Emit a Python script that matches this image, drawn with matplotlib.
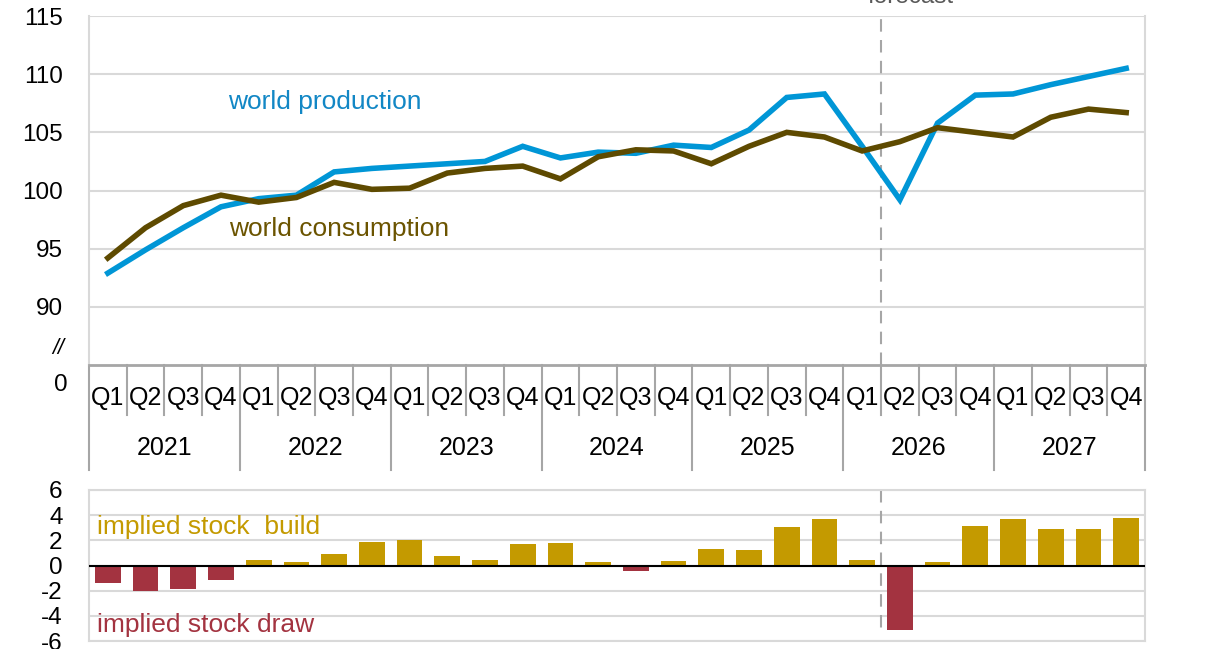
import numpy as np
import matplotlib
matplotlib.use("Agg")
from matplotlib import pyplot as plt
from matplotlib import transforms

plt.rcParams['font.family'] = ['Liberation Sans', 'DejaVu Sans']
plt.rcParams['axes.unicode_minus'] = False

years = ['2021', '2022', '2023', '2024', '2025', '2026', '2027']
quarters = ['Q1', 'Q2', 'Q3', 'Q4']

# million barrels per day
production = [92.9, 94.9, 96.8, 98.6, 99.3, 99.6, 101.6, 101.9, 102.1, 102.3,
              102.5, 103.8, 102.8, 103.3, 103.2, 103.9, 103.7, 105.2, 108.0, 108.3,
              103.8, 99.2, 105.8, 108.2, 108.3, 109.1, 109.8, 110.5]
consumption = [94.2, 96.8, 98.7, 99.6, 99.0, 99.4, 100.7, 100.1, 100.2, 101.5,
               101.9, 102.1, 101.0, 102.9, 103.5, 103.4, 102.3, 103.8, 105.0, 104.6,
               103.4, 104.2, 105.4, 105.0, 104.6, 106.3, 107.0, 106.7]
stock_change = [-1.4, -2.05, -1.9, -1.15, 0.4, 0.25, 0.9, 1.83, 2.0, 0.75,
                0.45, 1.67, 1.78, 0.3, -0.42, 0.37, 1.3, 1.2, 3.05, 3.72,
                0.4, -5.15, 0.3, 3.17, 3.72, 2.9, 2.93, 3.78]
forecast_start = 21  # first forecast quarter (2026 Q2)

blue = '#0096D6'
brown = '#5E4A00'
gold = '#C49A00'
red = '#A33340'
grid = '#D9D9D9'
sep = '#A6A6A6'

tick_fs = 17.5
cat_fs = 18
note_fs = 19

n = len(production)
x = np.arange(n)

fig = plt.figure(figsize=(12.09, 6.49), dpi=100)
ax = fig.add_axes([0.0736, 0.4376, 0.8735, 0.5377])
ax2 = fig.add_axes([0.0736, 0.0123, 0.8735, 0.2327])

# ---- top panel: production / consumption
ax.plot(x, production, color=blue, lw=4, solid_joinstyle='miter', zorder=3)
ax.plot(x, consumption, color=brown, lw=4, solid_joinstyle='miter', zorder=3)
ax.set_xlim(-0.5, n - 0.5)
ax.set_ylim(85, 115)
ax.set_yticks([90, 95, 100, 105, 110, 115])
ax.yaxis.grid(True, color=grid, lw=1.5)
ax.set_axisbelow(True)
ax.set_xticks([])
ax.tick_params(axis='y', length=0, pad=19, labelsize=tick_fs)
for s in ['left', 'right']:
    ax.spines[s].set_color(grid)
    ax.spines[s].set_linewidth(1.5)
ax.spines['top'].set_visible(False)
ax.spines['bottom'].set_color(sep)
ax.spines['bottom'].set_linewidth(2)
ax.axvline(forecast_start - 0.5, color=sep, lw=1.5, dashes=(6, 4), zorder=2)

ax.text(forecast_start + 0.28, 116.6, 'forecast', color='#595959',
        fontsize=tick_fs, ha='center', va='center', clip_on=False)
ax.text(3.19, 107.6, 'world production', color='#1287C5', fontsize=note_fs, va='center')
ax.text(3.22, 96.7, 'world consumption', color='#6B5400', fontsize=note_fs, va='center')

# axis break marker and zero
ax.text(-0.023, 86.4, '//', transform=transforms.blended_transform_factory(ax.transAxes, ax.transData),
        ha='right', va='center', fontsize=tick_fs - 2, style='italic', clip_on=False)
ax.text(-0.02, -0.057, '0', transform=ax.transAxes, ha='right', va='center',
        fontsize=tick_fs, clip_on=False)

# ---- category axis: quarters and years
tr = transforms.blended_transform_factory(ax.transData, ax.transAxes)
for i in range(n):
    ax.text(x[i], -0.0946, quarters[i % 4], transform=tr, ha='center', va='center',
            fontsize=cat_fs, clip_on=False)
    if i % 4 != 0:
        ax.plot([i - 0.5, i - 0.5], [0, -0.143], transform=tr, color=sep, lw=1.5, clip_on=False)
for k, yr in enumerate(years):
    ax.text(4 * k + 1.5, -0.238, yr, transform=tr, ha='center', va='center',
            fontsize=cat_fs, clip_on=False)
for k in range(len(years) + 1):
    ax.plot([4 * k - 0.5, 4 * k - 0.5], [0, -0.30], transform=tr, color=sep, lw=1.5, clip_on=False)

# ---- bottom panel: implied stock change
colors = [gold if v >= 0 else red for v in stock_change]
ax2.bar(x, stock_change, width=0.68, color=colors, zorder=3)
ax2.set_xlim(-0.5, n - 0.5)
ax2.set_ylim(-6, 6)
ax2.set_yticks([-6, -4, -2, 0, 2, 4, 6])
ax2.yaxis.grid(True, color=grid, lw=1.5)
ax2.set_axisbelow(True)
ax2.set_xticks([])
ax2.tick_params(axis='y', length=0, pad=19, labelsize=tick_fs)
for s in ax2.spines.values():
    s.set_color(grid)
    s.set_linewidth(1.5)
ax2.axhline(0, color='black', lw=1.5, zorder=4)
ax2.plot([forecast_start - 0.5] * 2, [6, -5.3], color=sep, lw=1.5, dashes=(6, 4), zorder=2)
ax2.text(-0.29, 3.04, 'implied stock  build', color=gold, fontsize=note_fs, va='center')
ax2.text(-0.29, -4.7, 'implied stock draw', color=red, fontsize=note_fs, va='center')

fig.savefig('out.png', dpi=100)
